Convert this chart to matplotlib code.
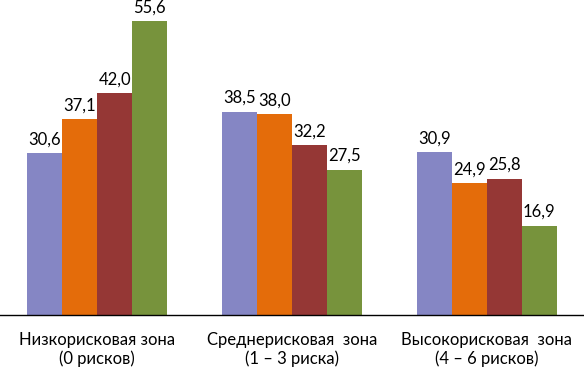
import numpy as np
import matplotlib
matplotlib.use('Agg')
import matplotlib.pyplot as plt

plt.rcParams['font.family'] = ['Lato', 'DejaVu Sans']

categories = ['Низкорисковая зона\n(0 рисков)',
              'Среднерисковая  зона\n(1 – 3 риска)',
              'Высокорисковая  зона\n(4 – 6 рисков)']
series1 = [30.6, 38.5, 30.9]
series2 = [37.1, 38.0, 24.9]
series3 = [42.0, 32.2, 25.8]
series4 = [55.6, 27.5, 16.9]
series = [series1, series2, series3, series4]
colors = ['#8586c4', '#e46c0a', '#953735', '#77933c']

fig = plt.figure(figsize=(5.84, 3.70), dpi=100)
ax = fig.add_axes([0, 55 / 370, 1, 315 / 370])

x = np.arange(len(categories))
width = 0.18
for i, (vals, c) in enumerate(zip(series, colors)):
    pos = x + (i - 1.5) * width
    bars = ax.bar(pos, vals, width=width, color=c, linewidth=0)
    for b, v in zip(bars, vals):
        ax.annotate(f'{v:.1f}'.replace('.', ','),
                    (b.get_x() + b.get_width() / 2, v),
                    xytext=(0, 4), textcoords='offset points',
                    ha='center', va='bottom', fontsize=12, color='#000000')

ax.set_xlim(-0.5, 2.5)
ax.set_ylim(0, 59.6)
ax.set_yticks([])
ax.set_xticks(x)
ax.set_xticklabels(categories, fontsize=12, linespacing=1.2)
ax.tick_params(axis='x', length=0, pad=12)
for s in ['top', 'left', 'right']:
    ax.spines[s].set_visible(False)
ax.spines['bottom'].set_color('#000000')
ax.spines['bottom'].set_linewidth(1.0)
ax.patch.set_alpha(0)

fig.savefig('out.png', dpi=100)
